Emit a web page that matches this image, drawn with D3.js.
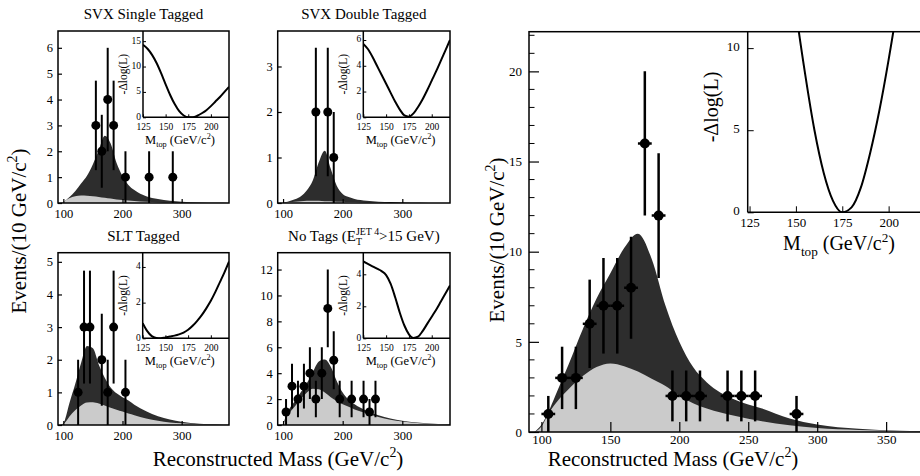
<!DOCTYPE html>
<html><head><meta charset="utf-8">
<script src="https://cdn.jsdelivr.net/npm/d3@7"></script>
<style>body{margin:0;background:#fff} svg text{font-family:"Liberation Serif","Times New Roman",serif;fill:#000}</style>
</head><body><svg id="c" width="920" height="476"></svg>
<script>
// ---------- data ----------
const curveMass = [95,100,105,110,120,130,140,150,160,170,180,190,200,210,220,240,260,280,300,330,360,380];
const likeMass  = [125,130,135,140,145,150,155,160,165,170,175,180,185,190,195,200,205,210,215,220];
const smallXTicks = [100,200,300];
const insetXTicks = [125,150,175,200];

// SVX Single Tagged
const svxSingleMass   = [155,165,175,185,205,245,285];
const svxSingleEvents = [3,2,4,3,1,1,1];
const svxSingleErr    = [1.73,1.41,2,1.73,1,1,1];
const svxSingleTotal  = [0,0.05,0.12,0.22,0.45,0.75,1.05,1.5,2.05,2.6,2.3,1.55,1.05,0.7,0.5,0.26,0.15,0.09,0.05,0.02,0.005,0];
const svxSingleBkg    = [0,0.05,0.12,0.18,0.26,0.29,0.28,0.26,0.23,0.2,0.17,0.14,0.12,0.1,0.08,0.05,0.03,0.02,0.01,0.005,0,0];
const svxSingleLike   = [14.3,13.5,12.3,10.7,8.7,6.5,4.4,2.6,1.2,0.35,0.0,0.0,0.3,0.8,1.4,2.2,3.1,4.0,5.0,6.0];
const svxSingleYTicks = [0,1,2,3,4,5,6];
const svxSingleLikeTicks = [0,5,10,15];

// SVX Double Tagged
const svxDoubleMass   = [155,175,185];
const svxDoubleEvents = [2,2,1];
const svxDoubleErr    = [1.41,1.41,1];
const svxDoubleTotal  = [0,0,0.02,0.04,0.08,0.15,0.28,0.5,0.9,1.15,0.75,0.38,0.2,0.13,0.09,0.05,0.03,0.02,0.01,0.005,0,0];
const svxDoubleBkg    = [0,0,0.01,0.02,0.03,0.04,0.05,0.05,0.05,0.04,0.04,0.03,0.03,0.02,0.02,0.01,0.01,0,0,0,0,0];
const svxDoubleLike   = [5.7,5.3,4.7,4.0,3.3,2.6,1.9,1.2,0.6,0.15,0.05,0.3,0.8,1.4,2.1,2.85,3.6,4.4,5.2,6.0];
const svxDoubleYTicks = [0,1,2,3];
const svxDoubleLikeTicks = [0,2,4,6];

// SLT Tagged
const sltMass   = [125,135,145,165,175,185,205];
const sltEvents = [1,3,3,2,1,3,1];
const sltErr    = [1,1.73,1.73,1.41,1,1.73,1];
const sltTotal  = [0,0.05,0.3,0.65,1.25,1.9,2.42,2.35,1.85,1.45,1.15,0.97,0.85,0.75,0.62,0.42,0.27,0.17,0.1,0.04,0.015,0.005];
const sltBkg    = [0,0.03,0.12,0.25,0.45,0.6,0.69,0.7,0.66,0.6,0.53,0.47,0.41,0.35,0.3,0.2,0.13,0.08,0.05,0.02,0.01,0];
const sltLike   = [0.85,0.4,0.12,0.02,0.0,0.05,0.1,0.15,0.22,0.32,0.48,0.7,0.98,1.3,1.68,2.1,2.6,3.15,3.7,4.3];
const sltYTicks = [0,1,2,3,4,5];
const sltLikeTicks = [0,2,4];

// No Tags
const noTagMass   = [105,115,125,135,145,155,165,175,185,195,215,235,245,255];
const noTagEvents = [1,3,2,3,4,2,4,9,5,2,2,2,1,2];
const noTagErr    = [1,1.73,1.41,1.73,2,1.41,2,3,2.24,1.41,1.41,1.41,1,1.41];
const noTagTotal  = [0,0.1,0.75,1.2,1.85,2.55,3.25,4.1,4.9,5.05,4.5,3.4,2.5,1.95,1.6,1.1,0.75,0.5,0.33,0.17,0.08,0.05];
const noTagBkg    = [0,0.1,0.55,0.9,1.45,2.0,2.5,2.8,2.75,2.5,2.15,1.85,1.6,1.4,1.2,0.9,0.62,0.4,0.27,0.14,0.07,0.04];
const noTagLike   = [4.8,4.65,4.5,4.35,4.2,3.95,3.4,2.55,1.6,0.8,0.25,0.02,0.1,0.45,0.9,1.35,1.8,2.3,2.8,3.3];
const noTagYTicks = [0,2,4,6,8,10,12];
const noTagLikeTicks = [0,2,4];

// Combined (large panel)
const allMass   = [105,115,125,135,145,155,165,175,185,195,205,215,235,245,255,285];
const allEvents = [1,3,3,6,7,7,8,16,12,2,2,2,2,2,2,1];
const allErr    = [1,1.73,1.73,2.45,2.65,2.65,2.83,4,3.46,1.41,1.41,1.41,1.41,1.41,1.41,1];
const allTotal  = [0,0.4,1.1,2.0,3.8,5.7,7.4,8.8,10.2,11.0,9.6,7.0,5.0,3.6,2.75,1.8,1.3,0.75,0.42,0.18,0.07,0.03];
const allBkg    = [0,0.3,1.0,1.55,2.4,3.1,3.6,3.8,3.65,3.35,2.95,2.55,2.0,1.6,1.3,0.9,0.6,0.38,0.22,0.11,0.05,0.02];
const allYTicks = [0,5,10,15,20];
const allXTicks = [100,150,200,250,300,350];
const allLikeMass = [145,150,155,160,165,170,175,180,185,190,195,200,205,210];
const allLike     = [17,12.3,8.4,5.0,2.4,0.7,0.0,0.3,1.5,3.6,6.2,9.3,12.8,17];
const allLikeYTicks = [0,5,10];

// ---------- drawing ----------
const svg = d3.select('#c');
const DARK = '#2d2d2d', LIGHT = '#cbcbcb';
const fmt = d3.format('d');
let clipN = 0;

function rich(t, parts, fs) {
  let shift = 0;
  parts.forEach(p => {
    const s = p[0], kind = p[1], dx = p[2];
    let target = 0, size = fs;
    if (kind === 'sup') { target = -0.42 * fs; size = 0.66 * fs; }
    if (kind === 'sub') { target = 0.28 * fs; size = 0.66 * fs; }
    const ts = t.append('tspan').text(s).attr('font-size', size);
    if (target - shift !== 0) ts.attr('dy', target - shift);
    if (dx) ts.attr('dx', dx);
    shift = target;
  });
}
function clip(L, T, W, H) {
  const id = 'clip' + (clipN++);
  svg.append('clipPath').attr('id', id).append('rect').attr('x', L).attr('y', T).attr('width', W).attr('height', H);
  return 'url(#' + id + ')';
}

function inset(o) {
  const x = d3.scaleLinear().domain(o.xd).range([o.L, o.R]);
  const y = d3.scaleLinear().domain(o.yd).range([o.B, o.T]);
  const g = svg.append('g');
  g.append('rect').attr('x', o.L).attr('y', o.T).attr('width', o.R - o.L).attr('height', o.B - o.T).attr('fill', '#fff');
  g.append('path').datum(o.mass.map((m, i) => [m, o.like[i]]))
    .attr('clip-path', clip(o.L, o.T, o.R - o.L, o.B - o.T))
    .attr('fill', 'none').attr('stroke', '#000').attr('stroke-width', o.lw)
    .attr('d', d3.line().x(d => x(d[0])).y(d => y(d[1])).curve(d3.curveMonotoneX));
  const ax = g.append('g').attr('transform', `translate(0,${o.B})`)
    .call(d3.axisBottom(x).tickValues(o.xt).tickFormat(fmt).tickSize(-o.ts).tickPadding(o.xtp));
  const ay = g.append('g').attr('transform', `translate(${o.L},0)`)
    .call(d3.axisLeft(y).tickValues(o.yt).tickFormat(fmt).tickSize(-o.ts).tickPadding(o.ytp));
  [ax, ay].forEach(a => {
    a.select('.domain').remove();
    a.selectAll('text').attr('font-size', o.tfs).attr('font-family', null);
    a.selectAll('line').attr('stroke-width', 1);
  });
  ay.selectAll('text').attr('dy', '0.2em');
  g.append('line').attr('x1', o.L).attr('x2', o.L).attr('y1', o.T).attr('y2', o.B).attr('stroke', '#000').attr('stroke-width', o.fw);
  g.append('line').attr('x1', o.L).attr('x2', o.R).attr('y1', o.B).attr('y2', o.B).attr('stroke', '#000').attr('stroke-width', o.fw);
  const yl = g.append('text').attr('text-anchor', 'middle')
    .attr('transform', `translate(${o.ylx},${o.yly}) rotate(-90)`).attr('font-size', o.lfs);
  yl.text('-\u0394log(L)');
  const xl = g.append('text').attr('text-anchor', 'middle').attr('x', o.xlx).attr('y', o.xly).attr('font-size', o.xlfs);
  rich(xl, [['M'], ['top', 'sub'], [' (GeV/c'], ['2', 'sup'], [')']], o.xlfs);
}

function panel(o) {
  const x = d3.scaleLinear().domain(o.xd).range([o.L, o.R]);
  const y = d3.scaleLinear().domain(o.yd).range([o.B, o.T]);
  const g = svg.append('g').attr('clip-path', clip(o.L, o.T, o.R - o.L, o.B - o.T));
  const area = d3.area().x(d => x(d[0])).y0(y(0)).y1(d => y(d[1])).curve(d3.curveMonotoneX);
  g.append('path').datum(curveMass.map((m, i) => [m, o.total[i]])).attr('fill', DARK).attr('d', area);
  g.append('path').datum(curveMass.map((m, i) => [m, o.bkg[i]])).attr('fill', LIGHT).attr('d', area);
  const pts = o.mass.map((m, i) => ({ m, v: o.events[i], e: o.err[i] }));
  g.selectAll('.ev').data(pts).enter().append('line')
    .attr('x1', d => x(d.m)).attr('x2', d => x(d.m))
    .attr('y1', d => y(Math.max(0, d.v - d.e))).attr('y2', d => y(d.v + d.e))
    .attr('stroke', '#000').attr('stroke-width', o.elw);
  if (o.hbar) {
    g.selectAll('.eh').data(pts).enter().append('line')
      .attr('x1', d => x(d.m - 5)).attr('x2', d => x(d.m + 5))
      .attr('y1', d => y(d.v)).attr('y2', d => y(d.v))
      .attr('stroke', '#000').attr('stroke-width', o.elw);
  }
  g.selectAll('circle').data(pts).enter().append('circle')
    .attr('cx', d => x(d.m)).attr('cy', d => y(d.v)).attr('r', o.r).attr('fill', '#000');

  const ax = svg.append('g').attr('transform', `translate(0,${o.B})`)
    .call(d3.axisBottom(x).tickValues(o.xt).tickFormat(fmt).tickSize(-o.ts).tickPadding(o.xtp));
  const ay = svg.append('g').attr('transform', `translate(${o.L},0)`)
    .call(d3.axisLeft(y).tickValues(o.yt).tickFormat(fmt).tickSize(-o.ts).tickPadding(o.ytp));
  [ax, ay].forEach(a => {
    a.select('.domain').remove();
    a.selectAll('text').attr('font-size', o.tfs).attr('font-family', null);
    a.selectAll('line').attr('stroke-width', 1.2);
  });
  if (o.minor) {
    svg.append('g').selectAll('line').data(o.minor).enter().append('line')
      .attr('x1', o.L).attr('x2', o.L + o.ts * 0.55).attr('y1', d => y(d)).attr('y2', d => y(d))
      .attr('stroke', '#000').attr('stroke-width', 1);
  }
  if (o.inset) inset(o.inset);
  svg.append('rect').attr('x', o.L).attr('y', o.T).attr('width', o.R - o.L).attr('height', o.B - o.T)
    .attr('fill', 'none').attr('stroke', '#000').attr('stroke-width', 1.5);
  if (o.title) {
    const t = svg.append('text').attr('text-anchor', 'middle').attr('x', (o.L + o.R) / 2).attr('y', o.ty).attr('font-size', 15);
    rich(t, o.title, 15);
  }
}

function smallInset(L, R, T, B, yd, yt, like) {
  return { L, R, T, B, xd: [125, 220], yd, xt: insetXTicks, yt, mass: likeMass, like,
    ts: 3, xtp: 6, ytp: 2, tfs: 9.5, lw: 2, fw: 1.5, lfs: 11.5, ylx: L - 16, yly: (T + B) / 2,
    xlx: L + 0.43 * (R - L), xly: B + 26.5, xlfs: 12.5 };
}

const SX = [91, 380];
panel({ L: 58, R: 229, T: 31, B: 203, xd: SX, yd: [0, 6.65], xt: smallXTicks, yt: svxSingleYTicks,
  total: svxSingleTotal, bkg: svxSingleBkg, mass: svxSingleMass, events: svxSingleEvents, err: svxSingleErr,
  r: 4.5, elw: 2, ts: 4, xtp: 6, ytp: 5, tfs: 12.5, ty: 19, title: [['SVX Single Tagged']],
  inset: smallInset(143, 229, 31, 117.3, [0, 17], svxSingleLikeTicks, svxSingleLike) });
panel({ L: 277.7, R: 450, T: 31, B: 203, xd: SX, yd: [0, 3.78], xt: smallXTicks, yt: svxDoubleYTicks,
  total: svxDoubleTotal, bkg: svxDoubleBkg, mass: svxDoubleMass, events: svxDoubleEvents, err: svxDoubleErr,
  r: 4.5, elw: 2, ts: 4, xtp: 6, ytp: 5, tfs: 12.5, ty: 19, title: [['SVX Double Tagged']],
  inset: smallInset(363.3, 450, 31, 117.3, [0, 6.7], svxDoubleLikeTicks, svxDoubleLike) });
panel({ L: 58, R: 229, T: 252.7, B: 425, xd: SX, yd: [0, 5.28], xt: smallXTicks, yt: sltYTicks,
  total: sltTotal, bkg: sltBkg, mass: sltMass, events: sltEvents, err: sltErr,
  r: 4.5, elw: 2, ts: 4, xtp: 6, ytp: 5, tfs: 12.5, ty: 241, title: [['SLT Tagged']],
  inset: smallInset(142.7, 229, 252.7, 338.3, [0, 4.8], sltLikeTicks, sltLike) });
panel({ L: 277.7, R: 450, T: 252.7, B: 425, xd: SX, yd: [0, 13.3], xt: smallXTicks, yt: noTagYTicks,
  total: noTagTotal, bkg: noTagBkg, mass: noTagMass, events: noTagEvents, err: noTagErr,
  r: 4.5, elw: 2, ts: 4, xtp: 6, ytp: 5, tfs: 12.5, ty: 241,
  title: [['No Tags (E'], ['T', 'sub'], ['JET 4', 'sup', -6], ['>15 GeV)']],
  inset: smallInset(363.3, 450, 252.7, 338.3, [0, 5.35], noTagLikeTicks, noTagLike) });

const minorTicks = d3.range(0, 23).filter(v => v % 5 !== 0);
panel({ L: 529, R: 927.5, T: 31.7, B: 432, xd: SX, yd: [0, 22.2], xt: allXTicks, yt: allYTicks,
  total: allTotal, bkg: allBkg, mass: allMass, events: allEvents, err: allErr, hbar: true,
  r: 5, elw: 2.5, ts: 10, xtp: 3, ytp: 7, tfs: 13, minor: minorTicks,
  inset: { L: 747.7, R: 935, T: 31.7, B: 212.3, xd: [124, 225], yd: [0, 11], xt: insetXTicks, yt: allLikeYTicks,
    mass: allLikeMass, like: allLike, ts: 6, xtp: 5, ytp: 8, tfs: 13, lw: 2, fw: 1.5, lfs: 20, ylx: 718, yly: 107,
    xlx: 839, xly: 250, xlfs: 20 } });

// global axis titles
let t = svg.append('text').attr('text-anchor', 'middle').attr('transform', 'translate(26,231) rotate(-90)').attr('font-size', 21);
rich(t, [['Events/(10 GeV/c'], ['2', 'sup'], [')']], 21);
t = svg.append('text').attr('text-anchor', 'middle').attr('x', 278).attr('y', 466).attr('font-size', 21);
rich(t, [['Reconstructed Mass (GeV/c'], ['2', 'sup'], [')']], 21);
t = svg.append('text').attr('text-anchor', 'middle').attr('transform', 'translate(504,240) rotate(-90)').attr('font-size', 21);
rich(t, [['Events/(10 GeV/c'], ['2', 'sup'], [')']], 21);
t = svg.append('text').attr('text-anchor', 'middle').attr('x', 673).attr('y', 466).attr('font-size', 21);
rich(t, [['Reconstructed Mass (GeV/c'], ['2', 'sup'], [')']], 21);
</script></body></html>
